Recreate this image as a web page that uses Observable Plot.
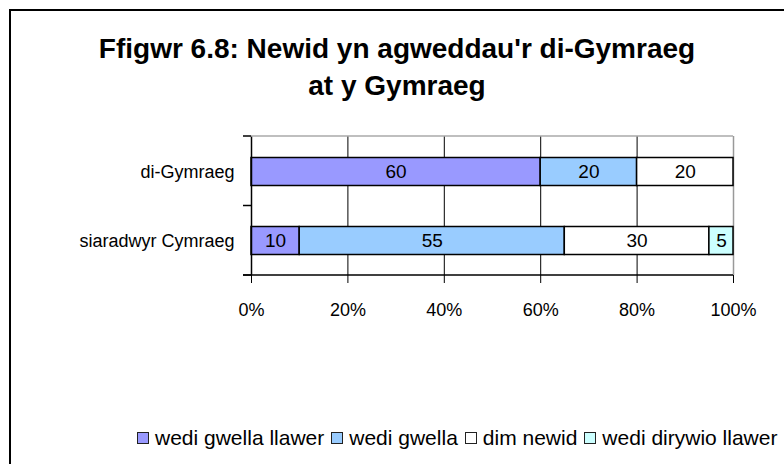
<!DOCTYPE html>
<html>
<head>
<meta charset="utf-8">
<script src="https://cdn.jsdelivr.net/npm/d3@7"></script>
<script src="https://cdn.jsdelivr.net/npm/@observablehq/plot@0.6"></script>
<style>
  html, body { margin: 0; padding: 0; background: #fff; }
  #wrap { position: relative; width: 784px; height: 464px; overflow: hidden; background: #fff; font-family: "Liberation Sans", Arial, sans-serif; color: #000; }
  #border { position: absolute; left: 9px; top: 9px; width: 820px; height: 520px; border: 2px solid #000; box-sizing: border-box; }
  #title { position: absolute; left: 10px; width: 774px; top: 30px; text-align: center; font-weight: bold; font-size: 28px; line-height: 37px; }
  #chart { position: absolute; left: 0; top: 0; }
  #legend { position: absolute; left: 137px; top: 425px; display: flex; align-items: center; font-size: 21px; line-height: 26px; white-space: nowrap; }
  .sw { display: inline-block; width: 10px; height: 10px; border: 1px solid #222; margin-right: 6px; }
  .item { display: flex; align-items: center; margin-right: 7px; }
</style>
</head>
<body>
<div id="wrap">
  <div id="border"></div>
  <div id="title">Ffigwr 6.8: Newid yn agweddau'r di-Gymraeg<br>at y Gymraeg</div>
  <div id="chart"></div>
  <div id="legend"></div>
</div>
<script>
const categories = ["di-Gymraeg", "siaradwyr Cymraeg"];
const series = ["wedi gwella llawer", "wedi gwella", "dim newid", "wedi dirywio llawer"];
const diGymraegValues = [60, 20, 20, 0];
const siaradwyrValues = [10, 55, 30, 5];
const xTicks = [0, 20, 40, 60, 80, 100];
const colors = ["#9999FF", "#99CCFF", "#FFFFFF", "#CCFFFF"];

const valuesByCat = [diGymraegValues, siaradwyrValues];
const rows = [];
categories.forEach((c, i) => {
  series.forEach((s, j) => {
    const v = valuesByCat[i][j];
    if (v > 0) rows.push({cat: c, series: s, value: v});
  });
});

const W = 784, H = 464;
const mL = 251, mR = 51, mT = 136, mB = 189;

const plot = Plot.plot({
  width: W, height: H,
  marginLeft: mL, marginRight: mR, marginTop: mT, marginBottom: mB,
  style: {fontFamily: "'Liberation Sans', Arial, sans-serif", fontSize: "18px", background: "transparent", color: "#000", overflow: "visible"},
  x: {domain: [0, 100], ticks: xTicks, tickFormat: d => d + "%", tickSize: 8, tickPadding: 20, label: null},
  y: {domain: categories, padding: 0, tickSize: 0, tickPadding: 17, label: null},
  color: {domain: series, range: colors},
  marks: [
    Plot.ruleX(xTicks.slice(1, -1), {stroke: "#000", strokeWidth: 1}),
    Plot.ruleX([100], {stroke: "#999", strokeWidth: 1.5}),
    Plot.barX(rows, Plot.stackX({x: "value", y: "cat", z: "series", fill: "series", order: series, stroke: "#000", strokeWidth: 1.5, insetTop: 20.5, insetBottom: 20.5})),
    Plot.text(rows, Plot.stackX({x: "value", y: "cat", z: "series", text: d => String(d.value), order: series, fill: "#000", fontSize: 19})),
    Plot.ruleX([0], {stroke: "#000", strokeWidth: 1.5})
  ]
});

// frame edges and category-boundary ticks
const svg = d3.select(plot);
const x0 = mL, x1 = W - mR, y0 = mT, y1 = H - mB;
svg.append("line").attr("x1", x0).attr("x2", x1).attr("y1", y0).attr("y2", y0).attr("stroke", "#aaa").attr("stroke-width", 1.5);
svg.append("line").attr("x1", x0 - 8).attr("x2", x1).attr("y1", y1).attr("y2", y1).attr("stroke", "#000").attr("stroke-width", 1.5);
const step = (y1 - y0) / categories.length;
for (let i = 0; i <= categories.length; i++) {
  const y = y0 + i * step;
  svg.append("line").attr("x1", x0 - 8).attr("x2", x0).attr("y1", y).attr("y2", y).attr("stroke", "#000").attr("stroke-width", 1.5);
}
document.getElementById("chart").appendChild(plot);

const legend = d3.select("#legend");
series.forEach((s, i) => {
  const it = legend.append("div").attr("class", "item");
  it.append("span").attr("class", "sw").style("background", colors[i]);
  it.append("span").text(s);
});
</script>
</body>
</html>
